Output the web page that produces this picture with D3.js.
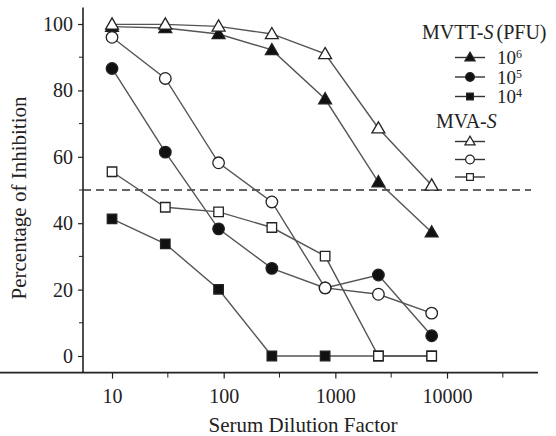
<!DOCTYPE html>
<html>
<head>
<meta charset="utf-8">
<script src="https://cdn.jsdelivr.net/npm/d3@7"></script>
<style>
  body { margin: 0; background: #fff; }
  svg text { font-family: 'Liberation Serif', 'DejaVu Serif', serif; fill: #222; }
</style>
</head>
<body>
<div class="chart"></div>
<script>
// 3-fold serum dilutions
const dilutions = [10, 30, 90, 270, 810, 2430, 7290];

const mvtt6 = [99.2, 98.8, 97, 92.2, 77.4, 52.4, 37.3];
const mvtt5 = [86.6, 61.4, 38.3, 26.4, 20.5, 24.4, 6.1];
const mvtt4 = [41.3, 33.8, 20.1, 0, 0, 0, 0];
const mva1 = [99.9, 99.9, 99.3, 97, 91, 68.6, 51.4];
const mva2 = [96, 83.6, 58.2, 46.4, 20.5, 18.6, 12.9];
const mva3 = [55.5, 44.8, 43.4, 38.7, 30.1, 0, 0];

const xTicks = [10, 100, 1000, 10000];
const xMinor = [31.6, 316, 3162, 31623];
const yTicks = [0, 20, 40, 60, 80, 100];
const yMinor = [10, 30, 50, 70, 90];
const cutoff = 50;

const series = [
  { values: mvtt4, shape: 'square', filled: true },
  { values: mvtt5, shape: 'circle', filled: true },
  { values: mvtt6, shape: 'triangle', filled: true },
  { values: mva3, shape: 'square', filled: false },
  { values: mva2, shape: 'circle', filled: false },
  { values: mva1, shape: 'triangle', filled: false },
];

const width = 556;
const height = 436;

const svg = d3
  .select('div.chart')
  .append('svg')
  .attr('width', width)
  .attr('height', height);

const x = d3.scaleLog().domain([Math.pow(10, 0.74), Math.pow(10, 4.815)]).range([83, 538]);
const y = d3.scaleLinear().domain([-5, 105]).range([372.6, 7.4]);

const symbolFor = (shape, size) => {
  const type = shape === 'square' ? d3.symbolSquare
    : shape === 'circle' ? d3.symbolCircle : d3.symbolTriangle;
  return d3.symbol().type(type).size(size)();
};
const sizes = { square: 90, circle: 105, triangle: 72 };

// axes
const xAxis = svg.append('g').attr('transform', `translate(0,${y.range()[0]})`);
xAxis.call(d3.axisBottom(x).tickValues(xTicks).tickFormat(d3.format('d')).tickSize(6).tickPadding(10));
xAxis.append('g').selectAll('line').data(xMinor).enter().append('line')
  .attr('x1', (d) => x(d)).attr('x2', (d) => x(d)).attr('y1', 0).attr('y2', 5)
  .attr('stroke', '#222');

const yAxis = svg.append('g').attr('transform', `translate(${x.range()[0]},0)`);
yAxis.call(d3.axisLeft(y).tickValues(yTicks).tickSize(5).tickPadding(5));
yAxis.append('g').selectAll('line').data(yMinor).enter().append('line')
  .attr('y1', (d) => y(d)).attr('y2', (d) => y(d)).attr('x1', 0).attr('x2', -4)
  .attr('stroke', '#222');

svg.selectAll('.domain').attr('stroke', '#222').attr('stroke-width', 1.6).attr('d', function () {
  return d3.select(this.parentNode).attr('transform').includes('translate(0')
    ? `M0,0H${x.range()[1]}` : `M0,${y.range()[0]}V${y.range()[1]}`;
});
svg.selectAll('.tick line').attr('stroke', '#222').attr('stroke-width', 1.2);
svg.selectAll('.tick text')
  .style('font-family', "'Liberation Serif', serif")
  .style('font-size', '20px')
  .attr('fill', '#222');

// 50% cutoff
svg.append('line')
  .attr('x1', x.range()[0]).attr('x2', 531)
  .attr('y1', y(cutoff)).attr('y2', y(cutoff))
  .attr('stroke', '#333').attr('stroke-width', 1.4)
  .attr('stroke-dasharray', '8,5');

const line = d3.line().x((d, i) => x(dilutions[i])).y((d) => y(d));

series.forEach((s) => {
  svg.append('path')
    .datum(s.values)
    .attr('d', line)
    .attr('fill', 'none')
    .attr('stroke', '#555')
    .attr('stroke-width', 1.4);
});

series.forEach((s) => {
  svg.append('g').selectAll('path').data(s.values).enter().append('path')
    .attr('transform', (d, i) => `translate(${x(dilutions[i])},${y(d) + (s.shape === 'triangle' ? 1 : 0)})`)
    .attr('d', symbolFor(s.shape, sizes[s.shape]))
    .attr('fill', s.filled ? '#111' : '#fff')
    .attr('stroke', '#222')
    .attr('stroke-width', 1.3);
});

// legend
const legend = svg.append('g');
const title1 = legend.append('text').attr('x', 422).attr('y', 39).style('font-size', '20px');
title1.append('tspan').text('MVTT-');
title1.append('tspan').style('font-style', 'italic').text('S');
title1.append('tspan').attr('dx', 3).text('(PFU)');

const title2 = legend.append('text').attr('x', 436).attr('y', 128).style('font-size', '20px');
title2.append('tspan').text('MVA-');
title2.append('tspan').style('font-style', 'italic').text('S');

const legendItems = [
  { shape: 'triangle', filled: true, y: 57.5, exp: '6' },
  { shape: 'circle', filled: true, y: 77, exp: '5' },
  { shape: 'square', filled: true, y: 96.5, exp: '4' },
  { shape: 'triangle', filled: false, y: 141.5 },
  { shape: 'circle', filled: false, y: 159.5 },
  { shape: 'square', filled: false, y: 177 },
];

legendItems.forEach((item) => {
  legend.append('line')
    .attr('x1', 455).attr('x2', 485).attr('y1', item.y).attr('y2', item.y)
    .attr('stroke', '#333').attr('stroke-width', 1.4);
  legend.append('path')
    .attr('transform', `translate(470,${item.y + (item.shape === 'triangle' ? 0.5 : 0)})`)
    .attr('d', symbolFor(item.shape, item.shape === 'circle' ? 60 : 45))
    .attr('fill', item.filled ? '#111' : '#fff')
    .attr('stroke', '#222')
    .attr('stroke-width', 1.2);
  if (item.exp) {
    const t = legend.append('text').attr('x', 497).attr('y', item.y + 6.5).style('font-size', '19px');
    t.append('tspan').text('10');
    t.append('tspan').attr('dy', -6).style('font-size', '12px').text(item.exp);
  }
});

// axis titles
svg.append('text')
  .attr('x', 303).attr('y', 432)
  .attr('text-anchor', 'middle')
  .style('font-size', '21px')
  .text('Serum Dilution Factor');

svg.append('text')
  .attr('transform', 'translate(26,198) rotate(-90)')
  .attr('text-anchor', 'middle')
  .style('font-size', '21px')
  .text('Percentage of Inhibition');
</script>
</body>
</html>
